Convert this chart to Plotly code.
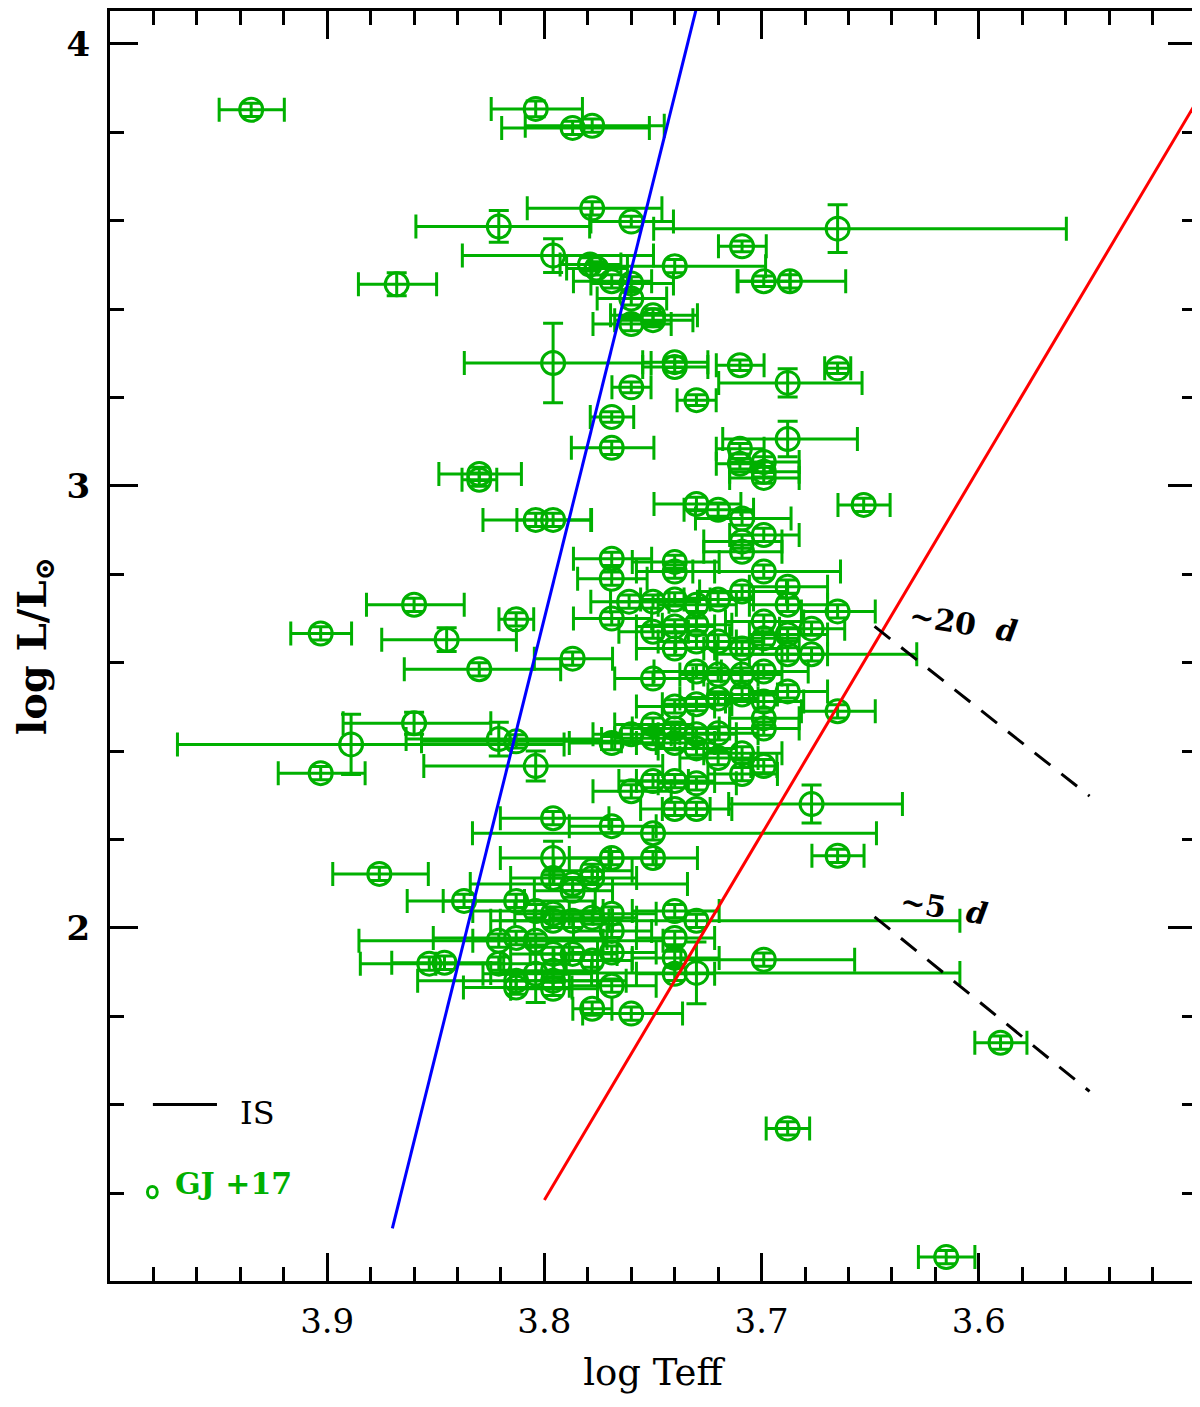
import numpy as np
import plotly.graph_objects as go

# ---- data: log Teff, log L/Lsun, and their half-errors ----
logT = [3.935, 3.804, 3.787, 3.778, 3.778, 3.821, 3.760, 3.665, 3.709, 3.796,
        3.779, 3.776, 3.740, 3.769, 3.760, 3.699, 3.687, 3.868, 3.760, 3.750,
        3.760, 3.796, 3.740, 3.740, 3.710, 3.665, 3.688, 3.760, 3.730, 3.769,
        3.769, 3.688, 3.710, 3.710, 3.699, 3.699, 3.699, 3.830, 3.830, 3.730,
        3.720, 3.709, 3.699, 3.653, 3.804, 3.796, 3.709, 3.709, 3.769, 3.740,
        3.769, 3.740, 3.699, 3.688, 3.761, 3.750, 3.740, 3.730, 3.720, 3.709,
        3.688, 3.665, 3.769, 3.750, 3.740, 3.730, 3.720, 3.709, 3.699, 3.699,
        3.688, 3.677, 3.677, 3.688, 3.740, 3.730, 3.787, 3.750, 3.730, 3.720,
        3.709, 3.699, 3.740, 3.730, 3.720, 3.709, 3.699, 3.688, 3.665, 3.699,
        3.699, 3.769, 3.760, 3.750, 3.750, 3.740, 3.740, 3.730, 3.730, 3.720,
        3.720, 3.709, 3.709, 3.699, 3.760, 3.750, 3.740, 3.730, 3.740, 3.730,
        3.677, 3.769, 3.750, 3.796, 3.665, 3.769, 3.750, 3.778, 3.787, 3.860,
        3.813, 3.903, 3.845, 3.830, 3.860, 3.889, 3.821, 3.813, 3.903, 3.804,
        3.876, 3.796, 3.837, 3.813, 3.804, 3.796, 3.821, 3.813, 3.804, 3.853,
        3.846, 3.821, 3.813, 3.804, 3.796, 3.813, 3.796, 3.787, 3.778, 3.796,
        3.787, 3.778, 3.769, 3.769, 3.740, 3.740, 3.730, 3.796, 3.787, 3.778,
        3.769, 3.740, 3.740, 3.730, 3.796, 3.796, 3.769, 3.778, 3.760, 3.699,
        3.590, 3.688, 3.615, 3.750]
logL = [3.851, 3.853, 3.810, 3.815, 3.628, 3.587, 3.598, 3.582, 3.542, 3.521,
        3.501, 3.492, 3.497, 3.463, 3.458, 3.463, 3.463, 3.456, 3.424, 3.386,
        3.366, 3.278, 3.280, 3.269, 3.273, 3.266, 3.233, 3.223, 3.194, 3.156,
        3.086, 3.106, 3.084, 3.050, 3.054, 3.032, 3.018, 3.027, 3.014, 2.959,
        2.946, 2.926, 2.889, 2.957, 2.923, 2.923, 2.874, 2.851, 2.835, 2.828,
        2.790, 2.806, 2.806, 2.772, 2.738, 2.738, 2.743, 2.731, 2.743, 2.761,
        2.731, 2.716, 2.700, 2.670, 2.682, 2.686, 2.648, 2.632, 2.693, 2.655,
        2.664, 2.677, 2.619, 2.619, 2.632, 2.648, 2.609, 2.564, 2.580, 2.573,
        2.573, 2.580, 2.501, 2.506, 2.519, 2.528, 2.512, 2.535, 2.490, 2.474,
        2.451, 2.418, 2.438, 2.460, 2.429, 2.451, 2.418, 2.438, 2.406, 2.440,
        2.384, 2.395, 2.348, 2.366, 2.309, 2.332, 2.332, 2.327, 2.269, 2.269,
        2.280, 2.230, 2.214, 2.248, 2.163, 2.158, 2.158, 2.129, 2.084, 2.731,
        2.698, 2.666, 2.652, 2.585, 2.463, 2.415, 2.427, 2.422, 2.350, 2.366,
        2.122, 2.158, 2.061, 2.061, 2.038, 2.016, 1.971, 1.977, 1.971, 1.919,
        1.921, 1.919, 1.880, 1.896, 1.880, 1.865, 2.113, 2.099, 2.113, 2.032,
        2.016, 2.023, 2.032, 1.993, 2.038, 1.977, 2.016, 1.941, 1.941, 1.926,
        1.944, 1.932, 1.896, 1.898, 1.903, 1.862, 1.869, 1.817, 1.806, 1.928,
        1.740, 1.546, 1.255, 3.375]
dlogT = [0.015, 0.021, 0.034, 0.032, 0.031, 0.040, 0.019, 0.095, 0.011, 0.044,
         0.014, 0.014, 0.040, 0.018, 0.019, 0.012, 0.025, 0.018, 0.016, 0.020,
         0.018, 0.043, 0.015, 0.015, 0.011, 0.006, 0.033, 0.009, 0.009, 0.010,
         0.019, 0.031, 0.011, 0.011, 0.016, 0.016, 0.016, 0.019, 0.008, 0.020,
         0.016, 0.022, 0.016, 0.012, 0.025, 0.017, 0.018, 0.018, 0.018, 0.020,
         0.016, 0.018, 0.034, 0.018, 0.018, 0.020, 0.016, 0.018, 0.016, 0.020,
         0.018, 0.017, 0.018, 0.016, 0.018, 0.016, 0.020, 0.018, 0.018, 0.016,
         0.018, 0.015, 0.046, 0.018, 0.018, 0.018, 0.018, 0.018, 0.020, 0.018,
         0.018, 0.020, 0.018, 0.016, 0.018, 0.016, 0.018, 0.018, 0.017, 0.016,
         0.016, 0.020, 0.018, 0.018, 0.018, 0.020, 0.018, 0.018, 0.018, 0.018,
         0.018, 0.018, 0.016, 0.006, 0.018, 0.016, 0.018, 0.018, 0.016, 0.016,
         0.040, 0.020, 0.093, 0.025, 0.012, 0.020, 0.020, 0.018, 0.018, 0.0225,
         0.008, 0.014, 0.031, 0.036, 0.034, 0.089, 0.045, 0.046, 0.020, 0.055,
         0.022, 0.025, 0.027, 0.035, 0.030, 0.025, 0.070, 0.040, 0.030, 0.033,
         0.025, 0.030, 0.048, 0.025, 0.020, 0.025, 0.020, 0.050, 0.020, 0.018,
         0.018, 0.020, 0.020, 0.018, 0.020, 0.018, 0.108, 0.020, 0.020, 0.018,
         0.020, 0.020, 0.018, 0.108, 0.020, 0.020, 0.020, 0.009, 0.023, 0.040,
         0.012, 0.010, 0.013, 0.018]
dlogL = [0.015, 0.018, 0.015, 0.015, 0.015, 0.036, 0.012, 0.054, 0.012, 0.038,
         0.015, 0.015, 0.015, 0.015, 0.015, 0.012, 0.015, 0.026, 0.015, 0.015,
         0.015, 0.090, 0.012, 0.012, 0.012, 0.012, 0.032, 0.012, 0.012, 0.012,
         0.015, 0.040, 0.012, 0.012, 0.012, 0.012, 0.012, 0.015, 0.015, 0.015,
         0.015, 0.015, 0.015, 0.015, 0.015, 0.015, 0.015, 0.015, 0.015, 0.015,
         0.015, 0.015, 0.015, 0.015, 0.015, 0.015, 0.015, 0.015, 0.015, 0.015,
         0.015, 0.015, 0.015, 0.015, 0.015, 0.015, 0.015, 0.015, 0.015, 0.015,
         0.015, 0.015, 0.015, 0.015, 0.015, 0.015, 0.015, 0.015, 0.015, 0.015,
         0.015, 0.015, 0.015, 0.015, 0.015, 0.015, 0.015, 0.015, 0.015, 0.015,
         0.015, 0.015, 0.015, 0.015, 0.015, 0.015, 0.015, 0.015, 0.015, 0.015,
         0.015, 0.015, 0.015, 0.015, 0.015, 0.015, 0.015, 0.015, 0.015, 0.015,
         0.043, 0.015, 0.015, 0.015, 0.015, 0.015, 0.015, 0.015, 0.015, 0.015,
         0.015, 0.015, 0.027, 0.015, 0.025, 0.068, 0.038, 0.015, 0.015, 0.034,
         0.015, 0.038, 0.015, 0.015, 0.015, 0.015, 0.015, 0.015, 0.015, 0.015,
         0.015, 0.015, 0.015, 0.065, 0.015, 0.015, 0.015, 0.015, 0.015, 0.015,
         0.015, 0.015, 0.015, 0.015, 0.015, 0.015, 0.015, 0.015, 0.015, 0.015,
         0.015, 0.015, 0.015, 0.070, 0.015, 0.015, 0.015, 0.015, 0.015, 0.015,
         0.015, 0.015, 0.015, 0.015]

# instability-strip edges and constant-period lines (endpoints)
blue_edge_T = [3.870, 3.726]
blue_edge_L = [1.320, 4.160]
red_edge_T = [3.800, 3.490]
red_edge_L = [1.384, 3.950]
p20_T = [3.648, 3.549]
p20_L = [2.682, 2.298]
p5_T = [3.648, 3.549]
p5_L = [2.025, 1.630]

x_ticks = [3.9, 3.8, 3.7, 3.6]
y_ticks = [2, 3, 4]

GREEN = "#00b000"
FONT = "DejaVu Serif"

# Teff errors are symmetric in Kelvin -> asymmetric in log
k = np.tanh(np.array(dlogT) * np.log(10))
err_plus = np.log10(1 + k)
err_minus = -np.log10(1 - k)

fig = go.Figure()
fig.add_trace(go.Scatter(
    x=logT, y=logL, mode="markers", showlegend=False,
    marker=dict(symbol="circle-open", size=23, color=GREEN,
                line=dict(width=3, color=GREEN)),
    error_x=dict(type="data", symmetric=False, array=err_plus,
                 arrayminus=err_minus, color=GREEN, thickness=3, width=12),
    error_y=dict(type="data", array=dlogL, color=GREEN, thickness=3, width=10),
))
fig.add_trace(go.Scatter(x=blue_edge_T, y=blue_edge_L, mode="lines",
                         line=dict(color="#0000ff", width=3), showlegend=False))
fig.add_trace(go.Scatter(x=red_edge_T, y=red_edge_L, mode="lines",
                         line=dict(color="#ff0000", width=3), showlegend=False))
for xs, ys in [(p20_T, p20_L), (p5_T, p5_L)]:
    fig.add_trace(go.Scatter(x=xs, y=ys, mode="lines", showlegend=False,
                             line=dict(color="black", width=3, dash="20px,14px")))

fig.add_annotation(x=3.607, y=2.688, xref="x", yref="y", text="<b>~20  <i>d</i></b>",
                   showarrow=False, textangle=9,
                   font=dict(family=FONT, size=30, color="black"))
fig.add_annotation(x=3.616, y=2.045, xref="x", yref="y", text="<b>~5  <i>d</i></b>",
                   showarrow=False, textangle=9,
                   font=dict(family=FONT, size=30, color="black"))

# legend drawn in paper coordinates
fig.add_shape(type="line", xref="paper", yref="paper", x0=0.0395, x1=0.0985,
              y0=0.139, y1=0.139, line=dict(color="black", width=3))
fig.add_annotation(xref="paper", yref="paper", x=0.118, y=0.1325,
                   xanchor="left", yanchor="middle",
                   text="IS", showarrow=False,
                   font=dict(family=FONT, size=32, color="black"))
fig.add_shape(type="circle", xref="paper", yref="paper",
              x0=0.0345, x1=0.0435, y0=0.0655, y1=0.0745,
              line=dict(color=GREEN, width=3))
fig.add_annotation(xref="paper", yref="paper", x=0.058, y=0.077,
                   xanchor="left", yanchor="middle",
                   text="<b>GJ +17</b>", showarrow=False,
                   font=dict(family=FONT, size=30, color=GREEN))

axis_common = dict(showline=True, linewidth=3, linecolor="black", mirror="allticks",
                   ticks="inside", tickwidth=2.5, tickcolor="black", ticklen=28,
                   showgrid=False, zeroline=False)
fig.update_xaxes(range=[4.0, 3.5], tickvals=x_ticks, ticktext=[f"{v:.1f}" for v in x_ticks],
                 minor=dict(dtick=0.02, tick0=3.5, ticks="inside", ticklen=14,
                            tickwidth=2.5, tickcolor="black", showgrid=False),
                 tickfont=dict(family=FONT, size=34, color="black"),
                 ticklabelstandoff=8,
                 title=dict(text="log Teff", font=dict(family=FONT, size=37, color="black"),
                            standoff=20),
                 **axis_common)
fig.update_yaxes(range=[1.2009, 4.0745], tickvals=y_ticks, ticktext=[f"<b>{v}</b>" for v in y_ticks],
                 minor=dict(dtick=0.2, tick0=0, ticks="inside", ticklen=14,
                            tickwidth=2.5, tickcolor="black", showgrid=False),
                 tickfont=dict(family=FONT, size=34, color="black"),
                 ticklabelstandoff=10,
                 title=dict(text="<b>log L/L<sub>⊙</sub></b>",
                            font=dict(family=FONT, size=40, color="black"), standoff=24),
                 **axis_common)

fig.update_layout(width=1191, height=1399, plot_bgcolor="white", paper_bgcolor="white",
                  margin=dict(l=102, r=1, t=0, b=126), showlegend=False)

fig.write_html("out.html")
